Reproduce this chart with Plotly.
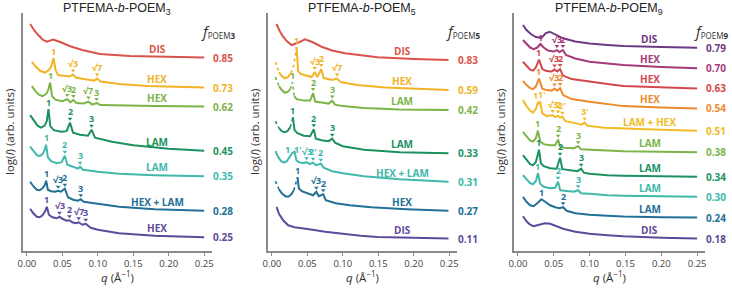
import plotly.graph_objects as go
import numpy as np

# ------------------------------------------------------------------
# DATA (q in 1/A ; log-intensity read as stacked, offset arbitrary units,
# measured downward from the top of the frame)
# ------------------------------------------------------------------
p1_frac = ["0.85", "0.73", "0.62", "0.45", "0.35", "0.28", "0.25"]
p1_phase = ["DIS", "HEX", "HEX", "LAM", "LAM", "HEX + LAM", "HEX"]
p1_q = [
    [0.0046, 0.010, 0.016, 0.022, 0.028, 0.037, 0.047, 0.060, 0.078, 0.103, 0.145, 0.20, 0.25],
    [0.007, 0.013, 0.019, 0.026, 0.031, 0.0345, 0.0375, 0.0405, 0.044, 0.052, 0.060, 0.065, 0.069,
     0.080, 0.095, 0.099, 0.104, 0.13, 0.17, 0.25],
    [0.007, 0.012, 0.017, 0.022, 0.027, 0.030, 0.0328, 0.0355, 0.040, 0.050, 0.0568, 0.061, 0.0656,
     0.070, 0.080, 0.0868, 0.092, 0.0984, 0.104, 0.13, 0.18, 0.25],
    [0.0046, 0.010, 0.015, 0.020, 0.025, 0.028, 0.0304, 0.033, 0.038, 0.048, 0.056, 0.0608, 0.065,
     0.075, 0.086, 0.0912, 0.096, 0.12, 0.15, 0.20, 0.25],
    [0.0046, 0.009, 0.014, 0.018, 0.022, 0.025, 0.027, 0.0295, 0.034, 0.042, 0.049, 0.0535, 0.057,
     0.065, 0.072, 0.075, 0.079, 0.09, 0.10, 0.13, 0.18, 0.25],
    [0.0046, 0.009, 0.014, 0.018, 0.022, 0.025, 0.0272, 0.0295, 0.034, 0.040, 0.044, 0.048, 0.0535,
     0.058, 0.065, 0.072, 0.076, 0.080, 0.10, 0.13, 0.18, 0.25],
    [0.0046, 0.009, 0.014, 0.018, 0.022, 0.026, 0.0282, 0.031, 0.036, 0.042, 0.046, 0.050, 0.056,
     0.060, 0.064, 0.069, 0.073, 0.078, 0.083, 0.090, 0.10, 0.13, 0.18, 0.25],
]
p1_y = [
    [24, 30, 35, 39.5, 41.7, 39.5, 42, 46, 50, 54, 56, 57, 57.5],
    [61.7, 67, 71, 72.5, 70, 66, 58, 70, 75, 76, 76.5, 74.5, 77.5, 79, 80.5, 78.5, 81.5, 84, 86, 87.5],
    [86, 91, 94.5, 96, 94, 90, 82.5, 96, 99.5, 101, 99, 102, 100, 103, 103.5, 101.5, 104.5, 103,
     105, 105.5, 106, 106.5],
    [115, 121, 125.5, 127.5, 125.5, 121, 109, 126, 130, 131.5, 131, 122.5, 132.5, 134.5, 135.5, 129.5,
     137.5, 141.5, 145, 148.5, 150.5],
    [146.5, 151, 155, 156, 154, 150, 144.5, 157, 161, 163, 162, 155.5, 164.5, 166.5, 168.5, 166.5,
     169.5, 170.5, 171.5, 173.5, 175, 176],
    [181.5, 186, 189.5, 190, 188, 185, 180.5, 189.5, 191, 191.5, 190.5, 191.5, 188.5, 197, 199.5,
     200.5, 199, 201.5, 203.5, 206.5, 209, 210.5],
    [208.5, 213, 216.5, 217, 215, 210.5, 206.5, 214.5, 217, 218, 216.5, 218.5, 220.5, 220, 222, 223,
     222, 224.5, 223.5, 227.5, 229.5, 233, 235.5, 237],
]
p1_peaks = [
    [],
    [(0.0375, "1"), (0.065, "√3"), (0.099, "√7")],
    [(0.0328, "1"), (0.0568, "√3"), (0.0656, "2"), (0.0868, "√7"), (0.0984, "3")],
    [(0.0304, "1"), (0.0608, "2"), (0.0912, "3")],
    [(0.027, "1"), (0.0535, "2"), (0.075, "3")],
    [(0.0272, "1"), (0.044, "√3"), (0.0535, "2"), (0.076, "3")],
    [(0.0282, "1"), (0.046, "√3"), (0.060, "2"), (0.073, "√7"), (0.083, "3")],
]

p2_frac = ["0.83", "0.59", "0.42", "0.33", "0.31", "0.27", "0.11"]
p2_phase = ["DIS", "HEX", "LAM", "LAM", "HEX + LAM", "HEX", "DIS"]
p2_q = [
    [0.0066, 0.011, 0.0159, 0.021, 0.0277, 0.036, 0.0465, 0.057, 0.070, 0.085, 0.103, 0.125, 0.149, 0.20, 0.249],
    [0.005, 0.0075, 0.010, 0.014, 0.018, 0.022, 0.027, 0.031, 0.0348, 0.037, 0.041, 0.050, 0.056,
     0.0603, 0.064, 0.0696, 0.073, 0.085, 0.092, 0.097, 0.12, 0.16, 0.249],
    [0.005, 0.0075, 0.010, 0.014, 0.018, 0.022, 0.026, 0.029, 0.0315, 0.035, 0.045, 0.054, 0.058,
     0.061, 0.070, 0.080, 0.085, 0.089, 0.10, 0.13, 0.18, 0.249],
    [0.005, 0.0075, 0.010, 0.014, 0.018, 0.022, 0.026, 0.0296, 0.032, 0.036, 0.045, 0.054, 0.059,
     0.062, 0.070, 0.080, 0.085, 0.089, 0.10, 0.13, 0.18, 0.249],
    [0.005, 0.009, 0.013, 0.017, 0.021, 0.025, 0.0285, 0.032, 0.0345, 0.038, 0.044, 0.049, 0.053,
     0.058, 0.062, 0.069, 0.073, 0.085, 0.10, 0.13, 0.18, 0.249],
    [0.005, 0.0075, 0.010, 0.014, 0.019, 0.023, 0.027, 0.031, 0.0362, 0.038, 0.042, 0.050, 0.058,
     0.0627, 0.066, 0.0724, 0.076, 0.090, 0.11, 0.14, 0.19, 0.249],
    [0.0066, 0.010, 0.0159, 0.0229, 0.032, 0.040, 0.055, 0.075, 0.103, 0.125, 0.149, 0.20, 0.249],
]
p2_y = [
    [24, 31, 36.7, 41, 45, 43, 39.3, 42, 46.7, 50.5, 53.3, 55.5, 57.3, 59, 60],
    [62, 68, 72, 76, 78, 77.5, 73, 65, 47, 71, 74, 76, 77, 72, 77, 69, 78, 80, 78.5, 82, 85, 87.5, 90],
    [77, 82, 86, 90, 92.5, 92, 89, 82, 96, 99, 100.5, 100.5, 93, 101.5, 102.5, 103.5, 100.5, 104.5,
     106, 108, 109.5, 110],
    [121, 125, 128, 131, 132, 131, 127, 117, 130, 133, 135.5, 136, 129, 138.5, 140, 141, 138.5, 142.5,
     146, 149.5, 152, 153],
    [151, 157, 161, 162.5, 161, 156, 153, 151.5, 160, 162, 163, 162, 164, 162.5, 165, 163.5, 167.5,
     171, 173, 176, 179, 181.5],
    [181, 186, 189, 193, 196, 196.5, 194.5, 190, 177, 188, 191, 193, 195, 191.5, 196, 194, 200, 203,
     205, 207, 209, 210.5],
    [206.7, 213.5, 220, 225, 227, 228, 229.3, 231.5, 234, 235.5, 236.7, 237.5, 238.3],
]
p2_peaks = [
    [],
    [(0.0348, "1"), (0.0603, "√3"), (0.0696, "2"), (0.092, "√7")],
    [(0.029, "1"), (0.058, "2"), (0.085, "3")],
    [(0.0296, "1"), (0.059, "2"), (0.085, "3")],
    [(0.025, "1"), (0.0335, "1'"), (0.049, "√3"), (0.058, "2'"), (0.069, "2")],
    [(0.0362, "1"), (0.0627, "√3"), (0.0724, "2")],
    [],
]
p2_dotted = [
    [],
    [(0.0, 0.010), (0.027, 0.0348)],
    [(0.0, 0.010), (0.026, 0.0315)],
    [(0.0, 0.010), (0.026, 0.0296)],
    [],
    [(0.0, 0.010), (0.031, 0.0362)],
    [],
]

p3_frac = ["0.79", "0.70", "0.63", "0.54", "0.51", "0.38", "0.34", "0.30", "0.24", "0.18"]
p3_phase = ["DIS", "HEX", "HEX", "HEX", "LAM + HEX", "LAM", "LAM", "LAM", "LAM", "DIS"]
p3_q = [
    [0.007, 0.012, 0.018, 0.025, 0.0328, 0.039, 0.0444, 0.050, 0.063, 0.08, 0.10, 0.125, 0.147, 0.20, 0.25],
    [0.007, 0.012, 0.017, 0.022, 0.027, 0.0314, 0.036, 0.042, 0.050, 0.0544, 0.058, 0.0628, 0.067,
     0.08, 0.10, 0.125, 0.147, 0.20, 0.25],
    [0.007, 0.012, 0.017, 0.021, 0.025, 0.0294, 0.034, 0.040, 0.047, 0.051, 0.055, 0.0588, 0.063,
     0.075, 0.10, 0.125, 0.147, 0.20, 0.25],
    [0.007, 0.012, 0.017, 0.021, 0.025, 0.0294, 0.034, 0.040, 0.047, 0.051, 0.055, 0.0588, 0.063,
     0.075, 0.10, 0.125, 0.147, 0.20, 0.25],
    [0.007, 0.012, 0.017, 0.021, 0.025, 0.028, 0.030, 0.031, 0.034, 0.040, 0.0485, 0.052, 0.056,
     0.059, 0.062, 0.066, 0.080, 0.089, 0.093, 0.097, 0.12, 0.147, 0.20, 0.25],
    [0.007, 0.012, 0.017, 0.021, 0.025, 0.028, 0.031, 0.036, 0.045, 0.052, 0.056, 0.059, 0.065,
     0.078, 0.084, 0.088, 0.10, 0.125, 0.147, 0.20, 0.25],
    [0.007, 0.012, 0.017, 0.021, 0.025, 0.0294, 0.032, 0.036, 0.045, 0.054, 0.0588, 0.062, 0.070,
     0.083, 0.0882, 0.092, 0.10, 0.125, 0.147, 0.20, 0.25],
    [0.007, 0.012, 0.017, 0.021, 0.025, 0.028, 0.031, 0.036, 0.045, 0.052, 0.056, 0.059, 0.065,
     0.078, 0.084, 0.088, 0.10, 0.125, 0.147, 0.20, 0.25],
    [0.007, 0.012, 0.017, 0.022, 0.027, 0.0328, 0.038, 0.045, 0.052, 0.058, 0.063, 0.068, 0.080,
     0.10, 0.125, 0.147, 0.20, 0.25],
    [0.007, 0.012, 0.017, 0.022, 0.027, 0.0375, 0.045, 0.053, 0.063, 0.08, 0.10, 0.125, 0.147, 0.20, 0.25],
]
p3_y = [
    [25, 30, 34, 37, 38, 33, 31.7, 33.5, 38.3, 41.5, 43.5, 45, 46, 47, 47.7],
    [40, 44, 47.5, 49, 47.5, 44, 47.5, 50.5, 51.5, 50, 52, 50, 55, 58.5, 61.7, 63.5, 65, 67, 68.3],
    [61.7, 66, 69.5, 70.5, 67.5, 59.5, 69, 71, 71.5, 69.5, 71.5, 69, 75.5, 79, 81.7, 84, 86, 87.5, 88.3],
    [80.7, 85, 88, 89, 86.5, 78.5, 88.5, 90, 90.5, 88.5, 90.5, 88, 95, 99, 101.7, 104, 106, 107.5, 108.3],
    [100, 106, 110.5, 112.5, 109, 102, 104, 101, 113, 116, 115, 117, 115.5, 117.5, 116.5, 121, 123,
     124.5, 122.5, 125.5, 127.5, 128.3, 129.5, 130.5],
    [131.7, 136.5, 140.5, 141.5, 138, 130.5, 141.5, 144, 145, 145, 139.5, 146.5, 147.5, 148, 146, 149,
     149.5, 150.5, 151, 151.5, 152],
    [155, 160, 164, 165, 162, 149.5, 163, 166, 168, 168.5, 157.5, 169, 170, 171, 168.5, 172.5, 173.5,
     175, 175.5, 176, 176.5],
    [175, 179.5, 183, 184, 181, 173, 183.5, 186.5, 188, 187.5, 181.5, 190, 190.5, 191.5, 190, 193,
     193.5, 195, 195.5, 196, 196.5],
    [196.7, 201.5, 205, 206, 203, 199, 201.5, 205, 207, 208, 207, 210.5, 213, 214.5, 215.5, 216.3, 217, 217.3],
    [216, 221, 224.5, 226, 225, 223, 223.5, 226, 228.5, 231.5, 233.5, 235, 236, 237.5, 238.3],
]
p3_peaks = [
    [],
    [(0.0314, "1"), (0.0544, "√3"), (0.0628, "2")],
    [(0.0294, "1"), (0.051, "√3"), (0.0588, "2")],
    [(0.0294, "1"), (0.051, "√3"), (0.0588, "2")],
    [(0.028, "1"), (0.031, "1'"), (0.0485, "√3"), (0.056, "2"), (0.062, "2'"), (0.093, "3'")],
    [(0.028, "1"), (0.056, "2"), (0.084, "3")],
    [(0.0294, "1"), (0.0588, "2"), (0.0882, "3")],
    [(0.028, "1"), (0.056, "2"), (0.084, "3")],
    [(0.0328, "1"), (0.063, "2")],
    [],
]

titles = ["PTFEMA-<i>b</i>-POEM<sub>3</sub>", "PTFEMA-<i>b</i>-POEM<sub>5</sub>",
          "PTFEMA-<i>b</i>-POEM<sub>9</sub>"]
subs = ["3", "5", "9"]
x_ticks = [0.00, 0.05, 0.10, 0.15, 0.20, 0.25]

# ------------------------------------------------------------------
# STYLE
# ------------------------------------------------------------------
RED, YEL, LGR, GRN, TEA, BLU, PUR = ("#d8534b", "#f1b327", "#7cb447", "#1c9160",
                                     "#40b8aa", "#236f96", "#5d4a9b")
p1_colors = [RED, YEL, LGR, GRN, TEA, BLU, PUR]
p2_colors = [RED, YEL, LGR, GRN, TEA, BLU, PUR]
p3_colors = ["#6b3a86", "#a53a78", "#d3474b", "#ec8a2c", "#f2bb26", LGR, GRN, TEA, BLU, PUR]

FONT = "Open Sans"
AX = "#8a8a8a"
W, Ht = 732, 290
ML, MR, MT, MB = 23, 27, 13, 39
PLOT_H = Ht - MT - MB
domains = [[0.0, 0.2771], [0.3592, 0.6364], [0.7199, 1.0]]
xr = [-0.0055, 0.261]
yr = [250.7, 13]

panels = [
    (p1_q, p1_y, p1_frac, p1_phase, p1_peaks, p1_colors, None),
    (p2_q, p2_y, p2_frac, p2_phase, p2_peaks, p2_colors, p2_dotted),
    (p3_q, p3_y, p3_frac, p3_phase, p3_peaks, p3_colors, None),
]


def segments(q, y, dots):
    segs = []
    for i in range(len(q) - 1):
        m = 0.5 * (q[i] + q[i + 1])
        d = any(a <= m <= b for a, b in dots)
        if segs and segs[-1][0] == d:
            segs[-1][1].append(q[i + 1])
            segs[-1][2].append(y[i + 1])
        else:
            segs.append((d, [q[i], q[i + 1]], [y[i], y[i + 1]]))
    return segs


fig = go.Figure()
ann = []
for pi, (Q, Y, FR, PH, PK, COL, DOT) in enumerate(panels):
    xa = "x" if pi == 0 else f"x{pi + 1}"
    ya = "y" if pi == 0 else f"y{pi + 1}"
    for ci in range(len(Q)):
        q, y, c = Q[ci], Y[ci], COL[ci]
        dots = DOT[ci] if DOT else []
        for dotted, qs, ys in segments(q, y, dots):
            fig.add_trace(go.Scatter(
                x=qs, y=ys, mode="lines", xaxis=xa, yaxis=ya, showlegend=False,
                hoverinfo="skip",
                line=dict(color=c, width=1.6 if dotted else 2.0, dash="dot" if dotted else "solid")))
        labels = [lab for _, lab in PK[ci]]
        paired = "1" in labels and "1'" in labels
        mq, my = [], []
        for pq, lab in PK[ci]:
            yv = float(np.interp(pq, q, y))
            if lab in ("1", "1'"):
                ly = yv - 7
            else:
                mq.append(pq)
                my.append(yv - 4)
                ly = yv - 11
            shift = 0
            if paired and lab == "1":
                shift = -2
            elif paired and lab == "1'":
                shift = 2
            ann.append(dict(x=pq, y=ly, xref=xa, yref=ya, text=lab, showarrow=False,
                            xanchor="center", yanchor="middle", xshift=shift,
                            font=dict(family=FONT, size=9, color=c, weight="bold")))
        if mq:
            fig.add_trace(go.Scatter(
                x=mq, y=my, mode="markers", xaxis=xa, yaxis=ya, showlegend=False,
                hoverinfo="skip",
                marker=dict(symbol="triangle-down", size=4, color=c, line=dict(width=0))))
        yend = y[-1]
        ann.append(dict(x=0.184, y=yend - 9, xref=xa, yref=ya, text=PH[ci], showarrow=False,
                        xanchor="center", yanchor="middle",
                        font=dict(family=FONT, size=10, color=c, weight="bold")))
        ann.append(dict(x=0.259, y=yend, xref=xa, yref=ya, text=FR[ci], showarrow=False,
                        xanchor="left", yanchor="middle",
                        font=dict(family=FONT, size=10, color=c, weight="bold")))
    # composition header
    ann.append(dict(x=0.243, y=31, xref=xa, yref=ya,
                    text=(f'<span style="font-size:15px"><i>f</i></span>'
                          f'<sub>POEM<b>{subs[pi]}</b></sub>'),
                    showarrow=False, xanchor="left", yanchor="middle",
                    font=dict(family=FONT, size=11.5, color="#333333")))
    # panel title
    ann.append(dict(x=0.5, y=1 + 4.5 / PLOT_H, xref=f"{xa} domain", yref="paper",
                    text=titles[pi], showarrow=False,
                    xanchor="center", yanchor="middle",
                    font=dict(family="Liberation Sans, Arial", size=12.5, color="#222222")))
    ann.append(dict(x=0.5, y=-25.5 / PLOT_H, xref=f"{xa} domain", yref="paper",
                    text="<i>q</i> (Å<sup>−1</sup>)", showarrow=False,
                    xanchor="center", yanchor="middle",
                    font=dict(family=FONT, size=11.5, color="#333333")))
    ann.append(dict(x=-14 / (domains[pi][1] - domains[pi][0]) / (W - ML - MR), y=0.5,
                    xref=f"{xa} domain", yref="paper", textangle=-90,
                    text="log(<i>I</i>) (arb. units)", showarrow=False,
                    xanchor="center", yanchor="middle",
                    font=dict(family=FONT, size=11.5, color="#333333")))

layout = dict(
    width=W, height=Ht, margin=dict(l=ML, r=MR, t=MT, b=MB, pad=0),
    paper_bgcolor="white", plot_bgcolor="white", showlegend=False,
    annotations=ann,
)
for pi in range(3):
    xk = "xaxis" if pi == 0 else f"xaxis{pi + 1}"
    yk = "yaxis" if pi == 0 else f"yaxis{pi + 1}"
    ya = "y" if pi == 0 else f"y{pi + 1}"
    xa = "x" if pi == 0 else f"x{pi + 1}"
    layout[xk] = dict(domain=domains[pi], range=xr, anchor=ya, showgrid=False, zeroline=False,
                      showline=True, linecolor=AX, linewidth=1.6, ticks="outside", ticklen=3,
                      tickwidth=1, tickcolor=AX, tickvals=x_ticks,
                      ticktext=[f"{v:.2f}" for v in x_ticks],
                      tickfont=dict(family=FONT, size=9.5, color="#444444"))
    layout[yk] = dict(domain=[0, 1], range=yr, anchor=xa, showgrid=False, zeroline=False,
                      showline=True, linecolor=AX, linewidth=1.6, ticks="", showticklabels=False)

fig.update_layout(**layout)
fig.write_html("out.html", config={"displayModeBar": False},
               post_script="document.body.style.margin='0';document.body.style.padding='0';")
